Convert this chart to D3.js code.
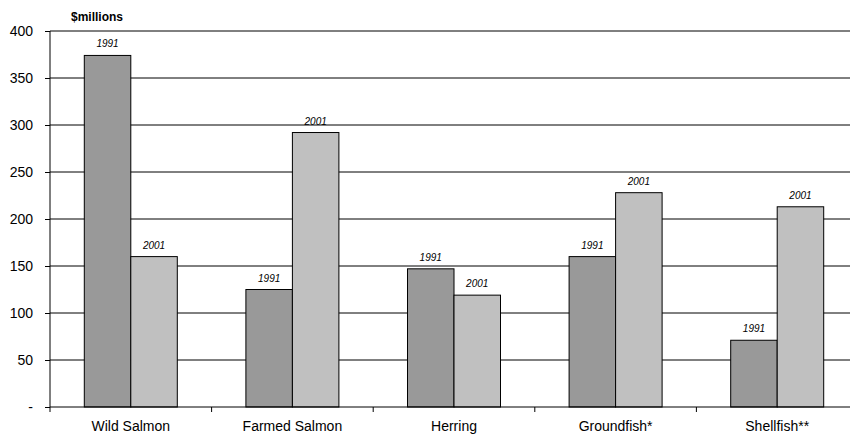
<!DOCTYPE html>
<html>
<head>
<meta charset="utf-8">
<script src="https://cdn.jsdelivr.net/npm/d3@7"></script>
<style>
  html, body { margin: 0; padding: 0; background: #fff; }
  svg { display: block; font-family: Arial, "Liberation Sans", sans-serif; }
</style>
</head>
<body>
<svg id="chart" width="850" height="434"></svg>
<script>
// Landed / farmed value by sector, $ millions
const categories = ["Wild Salmon", "Farmed Salmon", "Herring", "Groundfish*", "Shellfish**"];
const years = ["1991", "2001"];
const values1991 = [374, 125, 147, 160, 71];
const values2001 = [160, 292, 119, 228, 213];
const yTicks = [0, 50, 100, 150, 200, 250, 300, 350, 400];
const yTickLabels = ["-", "50", "100", "150", "200", "250", "300", "350", "400"];

const seriesValues = [values1991, values2001];
const colors = ["#999999", "#c0c0c0"];

const svg = d3.select("#chart");

const plotLeft = 50, plotTop = 31, plotBottom = 407, catWidth = 161.6;
const x0 = d3.scaleBand()
  .domain(categories)
  .range([plotLeft, plotLeft + catWidth * categories.length])
  .paddingInner(0).paddingOuter(0);

const groupWidth = 93;
const x1 = d3.scaleBand()
  .domain(years)
  .range([(catWidth - groupWidth) / 2, (catWidth + groupWidth) / 2])
  .padding(0);

const y = d3.scaleLinear().domain([0, 400]).range([plotBottom, plotTop]);

// Horizontal gridlines
svg.append("g")
  .selectAll("line")
  .data(yTicks.filter(t => t > 0))
  .join("line")
  .attr("x1", plotLeft).attr("x2", 850)
  .attr("y1", d => y(d)).attr("y2", d => y(d))
  .attr("stroke", "#000").attr("stroke-width", 1);

// Y axis
const yAxis = d3.axisLeft(y)
  .tickValues(yTicks)
  .tickFormat((d, i) => yTickLabels[i])
  .tickSize(5)
  .tickPadding(12);
const gy = svg.append("g").attr("transform", `translate(${plotLeft},0)`).call(yAxis);
gy.select(".domain").attr("stroke", "#000").attr("d", `M0,${plotTop}V${plotBottom}`);
gy.selectAll(".tick line").attr("stroke", "#000");
gy.selectAll(".tick text")
  .attr("font-size", 14)
  .attr("fill", "#000")
  .attr("font-family", "Arial, 'Liberation Sans', sans-serif");

// Bars
const groups = svg.append("g")
  .selectAll("g")
  .data(categories)
  .join("g")
  .attr("transform", d => `translate(${x0(d)},0)`);

groups.selectAll("rect")
  .data((d, i) => years.map((yr, s) => ({ yr, s, v: seriesValues[s][i] })))
  .join("rect")
  .attr("x", d => x1(d.yr))
  .attr("y", d => y(d.v))
  .attr("width", x1.bandwidth())
  .attr("height", d => y(0) - y(d.v))
  .attr("fill", d => colors[d.s])
  .attr("stroke", "#000")
  .attr("stroke-width", 1);

groups.selectAll("text")
  .data((d, i) => years.map((yr, s) => ({ yr, s, v: seriesValues[s][i] })))
  .join("text")
  .attr("x", d => x1(d.yr) + x1.bandwidth() / 2)
  .attr("y", d => y(d.v) - 8)
  .attr("text-anchor", "middle")
  .attr("font-size", 10)
  .attr("font-style", "italic")
  .attr("fill", "#000")
  .text(d => d.yr);

// X axis baseline with category separators
const gx = svg.append("g").attr("transform", `translate(0,${plotBottom})`);
gx.append("line")
  .attr("x1", plotLeft).attr("x2", 850)
  .attr("y1", 0).attr("y2", 0)
  .attr("stroke", "#000");
gx.selectAll("line.sep")
  .data(d3.range(categories.length + 1))
  .join("line")
  .attr("class", "sep")
  .attr("x1", i => plotLeft + catWidth * i).attr("x2", i => plotLeft + catWidth * i)
  .attr("y1", 0).attr("y2", 5)
  .attr("stroke", "#000");
gx.selectAll("text.cat")
  .data(categories)
  .join("text")
  .attr("class", "cat")
  .attr("x", d => x0(d) + x0.bandwidth() / 2)
  .attr("y", 24)
  .attr("text-anchor", "middle")
  .attr("font-size", 14)
  .attr("fill", "#000")
  .text(d => d);

// Unit label
svg.append("text")
  .attr("x", 71).attr("y", 21)
  .attr("font-size", 12)
  .attr("font-weight", "bold")
  .attr("fill", "#000")
  .text("$millions");
</script>
</body>
</html>
